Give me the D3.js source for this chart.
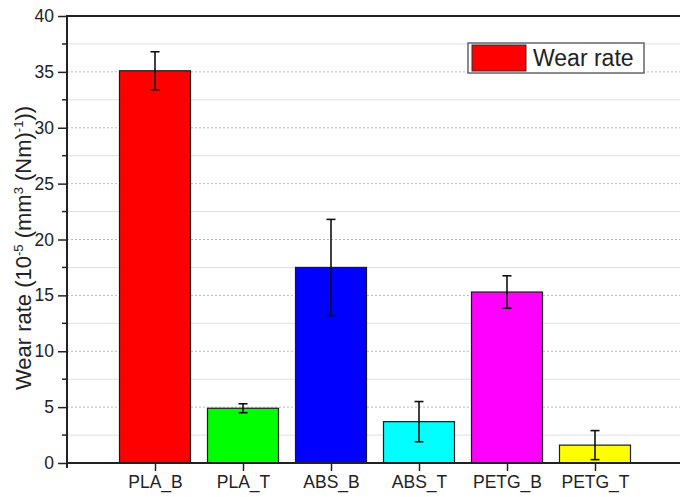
<!DOCTYPE html>
<html>
<head>
<meta charset="utf-8">
<script src="https://cdn.jsdelivr.net/npm/d3@7"></script>
<style>
  body { margin: 0; background: #fff; }
  text { font-family: "Liberation Sans", Arial, sans-serif; fill: #222; }
</style>
</head>
<body>
<svg id="chart" width="680" height="497"></svg>
<script>
// values
const categories = ["PLA_B", "PLA_T", "ABS_B", "ABS_T", "PETG_B", "PETG_T"];
const wearRate = [35.1, 4.9, 17.5, 3.7, 15.3, 1.6];
const wearError = [1.7, 0.4, 4.3, 1.8, 1.45, 1.3];
const barColors = ["#ff0000", "#00ff00", "#0000ff", "#00ffff", "#ff00ff", "#ffff00"];
const majorTicks = [0, 5, 10, 15, 20, 25, 30, 35, 40];
const minorTicks = [2.5, 7.5, 12.5, 17.5, 22.5, 27.5, 32.5, 37.5];
const legendLabel = "Wear rate";

var svg = d3.select("#chart"),
    plotL = 67, plotR = 683, plotT = 16, plotB = 463;

// categories sit on 1..6, the frame runs 0..7
var x = d3.scaleLinear().domain([0, categories.length + 1]).range([plotL, plotR]);
var y = d3.scaleLinear().domain([0, 40]).range([plotB, plotT]);
var barW = 71;

// grid
svg.append("g").selectAll("line").data(minorTicks).enter().append("line")
    .attr("x1", plotL).attr("x2", 680)
    .attr("y1", d => y(d)).attr("y2", d => y(d))
    .attr("stroke", "#e0e0e0").attr("stroke-width", 1);
svg.append("g").selectAll("line").data(majorTicks.slice(1, -1)).enter().append("line")
    .attr("x1", plotL).attr("x2", 680)
    .attr("y1", d => y(d)).attr("y2", d => y(d))
    .attr("stroke", "#bbb").attr("stroke-width", 1)
    .attr("stroke-dasharray", "2,2");

// bars
var data = categories.map((c, i) => ({c: c, v: wearRate[i], e: wearError[i], col: barColors[i], i: i}));

svg.append("g").selectAll("rect").data(data).enter().append("rect")
    .attr("x", d => x(d.i + 1) - barW / 2)
    .attr("y", d => y(d.v))
    .attr("width", barW)
    .attr("height", d => y(0) - y(d.v))
    .attr("fill", d => d.col)
    .attr("stroke", "#1a1a1a").attr("stroke-width", 1.2);

// error bars
var err = svg.append("g").attr("stroke", "#111").attr("stroke-width", 1.6);
err.selectAll(".stem").data(data).enter().append("line")
    .attr("x1", d => x(d.i + 1)).attr("x2", d => x(d.i + 1))
    .attr("y1", d => y(d.v + d.e)).attr("y2", d => y(d.v - d.e));
err.selectAll(".capt").data(data).enter().append("line")
    .attr("x1", d => x(d.i + 1) - 4.5).attr("x2", d => x(d.i + 1) + 4.5)
    .attr("y1", d => y(d.v + d.e)).attr("y2", d => y(d.v + d.e));
err.selectAll(".capb").data(data).enter().append("line")
    .attr("x1", d => x(d.i + 1) - 4.5).attr("x2", d => x(d.i + 1) + 4.5)
    .attr("y1", d => y(d.v - d.e)).attr("y2", d => y(d.v - d.e));

// axes
var yAxis = svg.append("g").attr("transform", `translate(${plotL},0)`)
    .call(d3.axisLeft(y).tickValues(majorTicks).tickSize(9).tickPadding(4));
yAxis.append("g").selectAll("line").data(minorTicks).enter().append("line")
    .attr("x1", -5).attr("x2", 0)
    .attr("y1", d => y(d)).attr("y2", d => y(d))
    .attr("stroke", "#222").attr("stroke-width", 1.5);

var xAxis = svg.append("g").attr("transform", `translate(0,${plotB})`)
    .call(d3.axisBottom(x).tickValues(d3.range(1, categories.length + 1))
        .tickFormat(d => categories[d - 1]).tickSize(8).tickPadding(5));

[yAxis, xAxis].forEach(g => {
    g.select(".domain").attr("stroke", "#222").attr("stroke-width", 2);
    g.selectAll(".tick line").attr("stroke", "#222").attr("stroke-width", 1.5);
    g.selectAll("text").attr("font-size", 17.5).attr("fill", "#222")
        .attr("font-family", '"Liberation Sans", Arial, sans-serif');
});
yAxis.select(".domain").attr("d", `M0,${plotB + 5}V${plotT}`);
xAxis.select(".domain").attr("d", `M${plotL},0H680`);

// top frame line
svg.append("line").attr("x1", plotL - 1).attr("x2", 680)
    .attr("y1", plotT).attr("y2", plotT)
    .attr("stroke", "#222").attr("stroke-width", 2);

// y title
var yt = svg.append("text")
    .attr("transform", `translate(31,248) rotate(-90)`)
    .attr("text-anchor", "middle").attr("font-size", 22);
yt.append("tspan").text("Wear rate (10");
yt.append("tspan").attr("dy", -8).attr("font-size", 13).text("-5");
yt.append("tspan").attr("dy", 8).text(" (mm");
yt.append("tspan").attr("dy", -8).attr("font-size", 13).text("3");
yt.append("tspan").attr("dy", 8).text(" (Nm)");
yt.append("tspan").attr("dy", -8).attr("font-size", 13).text("-1");
yt.append("tspan").attr("dy", 8).text("))");

// legend
var lg = svg.append("g").attr("transform", "translate(468,43)");
lg.append("rect").attr("width", 176).attr("height", 30)
    .attr("fill", "#fff").attr("stroke", "#666").attr("stroke-width", 1.5);
lg.append("rect").attr("x", 4).attr("y", 2).attr("width", 54).attr("height", 26)
    .attr("fill", barColors[0]).attr("stroke", "#333").attr("stroke-width", 1);
lg.append("text").attr("x", 65).attr("y", 23).attr("font-size", 23).text(legendLabel);
</script>
</body>
</html>
